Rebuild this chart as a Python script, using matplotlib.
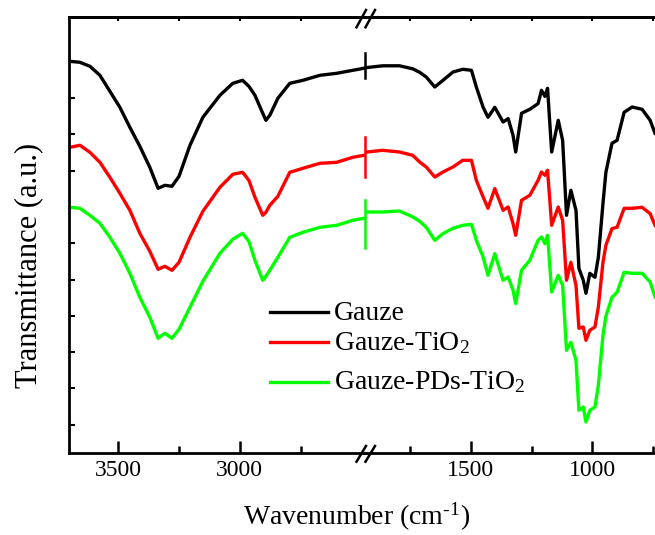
import numpy as np
import matplotlib
matplotlib.use('Agg')
import matplotlib.pyplot as plt
from matplotlib.lines import Line2D

plt.rcParams['font.family'] = ['Liberation Serif', 'DejaVu Serif']
plt.rcParams['mathtext.fontset'] = 'stix'

# wavenumbers (cm-1), left part of the broken axis
x_left = [3698, 3657, 3616, 3575, 3534, 3493, 3452, 3411, 3370, 3336, 3308, 3279, 3250, 3205, 3152,
          3082, 3029, 2989, 2963, 2938, 2906, 2893, 2877, 2844, 2795, 2741, 2671, 2602, 2536, 2491]
gauze_left = [392, 391, 387, 378, 362, 346, 326, 307, 286, 265, 268, 267, 277, 308, 336,
              358, 370, 373, 367, 358, 340, 333, 338, 355, 370, 373, 378, 380, 383, 385]
tio2_left = [306, 308, 301, 291, 276, 260, 243, 220, 202, 184, 187, 183, 191, 216, 242,
             266, 279, 281, 273, 256, 238, 241, 248, 257, 281, 285, 290, 291, 296, 298]
pds_left = [246, 245, 238, 230, 216, 200, 180, 156, 136, 115, 120, 115, 124, 146, 172,
            200, 214, 220, 212, 193, 173, 177, 183, 196, 216, 221, 226, 228, 233, 235]

# right part of the broken axis
x_right = [1937, 1862, 1793, 1739, 1710, 1683, 1648, 1614, 1573, 1533, 1497, 1477, 1449, 1429, 1401,
           1367, 1346, 1326, 1315, 1291, 1257, 1223, 1209, 1195, 1184, 1167, 1140, 1122, 1106, 1088,
           1067, 1055, 1037, 1026, 1010, 989, 975, 956, 944, 919, 898, 869, 836, 795, 762, 742]
gauze_right = [385.5, 387.5, 387.5, 384.5, 381, 376.3, 366.3, 373, 381.3, 384, 383, 366.3, 346, 336, 346,
               331.3, 334.7, 318, 301.3, 340, 344, 349.7, 363, 357, 365, 301.3, 333, 313, 238, 263,
               243, 185, 173, 160, 180, 176, 196, 250, 281, 310, 313, 341, 346.3, 344, 333, 320]
tio2_right = [301, 303, 301.3, 298, 291.3, 286.3, 276.3, 281.3, 286.3, 293, 293, 273, 256.3, 245, 264.7,
              243, 246.3, 229.7, 218, 253, 258, 273, 281.3, 278, 283, 228, 246.3, 233, 173, 191,
              168, 125, 126.3, 113, 123, 126.3, 146.3, 191, 208, 224.7, 226, 245, 245, 246, 239.7, 228]
pds_right = [241.3, 241.3, 242.3, 236.5, 232, 226, 213, 219.7, 225, 228, 229, 213, 196.3, 178, 199.7,
             173, 176.3, 163, 149.7, 183, 193, 213, 216.3, 209.7, 218, 161.3, 178, 168, 103, 111,
             93, 43, 46.3, 31.3, 43, 46.3, 68, 118, 137, 156, 161, 181, 180, 180, 171.3, 156.3]

# little vertical bars the curves show at the axis break
bar_lo = [375, 276, 205]
bar_hi = [400, 316, 253]

labels = ['Gauze', r'Gauze-TiO$_{\mathregular{2}}$', r'Gauze-PDs-TiO$_{\mathregular{2}}$']
colors = ['#000000', '#ff0000', '#00ff00']

W, H = 655, 535
fig = plt.figure(figsize=(W / 100, H / 100), dpi=100)

def fx(px):
    return px / W

def fy(py):
    return 1 - py / H

x0, xb, x1 = 69, 364.5, 655
ytop, ybot = 17.3, 453.3
axL = fig.add_axes([fx(x0), fy(ybot), fx(xb - x0), fy(ytop) - fy(ybot)])
axR = fig.add_axes([fx(xb), fy(ybot), fx(x1 - xb), fy(ytop) - fy(ybot)])

lefts = [gauze_left, tio2_left, pds_left]
rights = [gauze_right, tio2_right, pds_right]
for yl, yr, c in zip(lefts, rights, colors):
    axL.plot(x_left, yl, color=c, lw=2.4)
    axR.plot(x_right, yr, color=c, lw=2.4)
for lo, hi, c in zip(bar_lo, bar_hi, colors):
    axR.plot([x_right[0], x_right[0]], [lo, hi], color=c, lw=1.8, clip_on=False)

axL.set_xlim(3702, 2488)
axR.set_xlim(1937, 742)
for ax in (axL, axR):
    ax.set_ylim(0, 436)
    for s in ax.spines.values():
        s.set_linewidth(2)
    ax.tick_params(axis='x', which='major', direction='in', length=9, width=1.8,
                   labelsize=17, pad=5)
    ax.tick_params(axis='x', which='minor', direction='in', length=5, width=1.8)

axL.set_xticks([3500, 3000])
axL.set_xticks([3250, 2750], minor=True)
axR.set_xticks([1500, 1000])
axR.set_xticks([1750, 1250, 750], minor=True)

axL.spines['right'].set_visible(False)
axR.spines['left'].set_visible(False)
axR.spines['right'].set_visible(False)
axR.set_yticks([])
axL.set_yticks(np.arange(391.6, 0, -36.3))
axL.tick_params(axis='y', direction='in', length=4, width=1.5, labelleft=False)

# small ticks on the top edge
for ax, maj, mnr in ((axL, [3500, 3000], [3250, 2750]), (axR, [1500, 1000], [1750, 1250, 750])):
    sec = ax.secondary_xaxis('top')
    sec.set_xticks(maj)
    sec.set_xticks(mnr, minor=True)
    sec.set_xticklabels([])
    sec.tick_params(which='both', direction='in', length=3, width=1.5)
    sec.spines['top'].set_linewidth(2)

# break marks
for y_a, y_b in ((27.3, 10), (461.7, 446)):
    for dx in (0, 9):
        fig.add_artist(Line2D([fx(356.5 + dx), fx(366 + dx)], [fy(y_a), fy(y_b)],
                              color='black', lw=1.8))

fig.text(fx(356.5), fy(525), 'Wavenumber (cm$^{\\mathregular{\u20101}}$)', ha='center',
         va='baseline', fontsize=20)
fig.text(fx(29), fy(265), 'Transmittance (a.u.)', ha='center', va='center',
         rotation=90, fontsize=22)

# legend drawn by hand
rows = [311.7, 342.3, 381.7]
for yrow, c, lab in zip(rows, colors, labels):
    fig.add_artist(Line2D([fx(270), fx(328)], [fy(yrow), fy(yrow)], color=c, lw=2.4))
    fig.text(fx(334), fy(yrow + 8), lab, ha='left', va='baseline', fontsize=20)

fig.savefig('out.png', dpi=100)
